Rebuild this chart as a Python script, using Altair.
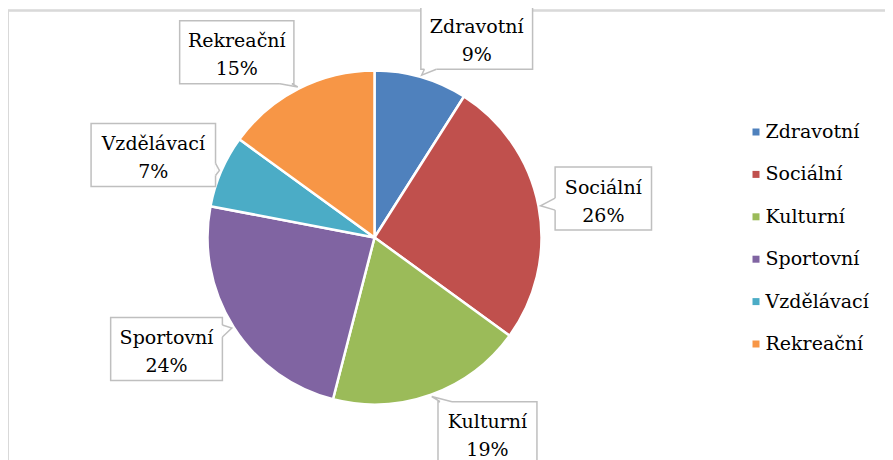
import altair as alt
import numpy as np
import pandas as pd

# ---- data ----
categories = ["Zdravotní", "Sociální", "Kulturní", "Sportovní", "Vzdělávací", "Rekreační"]
values = [9, 26, 19, 24, 7, 15]
colors = ["#4F81BD", "#C0504D", "#9BBB59", "#8064A2", "#4BACC6", "#F79646"]

# ---- layout / style ----
W, H = 877, 450
CX, CY, R = 366.5, 227.5, 167
FONT = "DejaVu Serif"
FS = 19
BORDER = "#d9d9d9"
BOXSTROKE = "#bfbfbf"

# Times advance widths (per 1000 em, 23px) used for callout box sizes
ADV = {"Z": 611, "d": 500, "r": 333, "a": 444, "v": 500, "o": 500, "t": 278, "n": 500,
       "í": 278, "S": 556, "c": 444, "i": 278, "á": 444, "l": 278, "K": 722, "u": 500,
       "p": 500, "V": 722, "z": 444, "ě": 444, "R": 667, "e": 444, "k": 500, "č": 444}

df = pd.DataFrame({"cat": categories, "value": values, "idx": range(len(values))})
total = df["value"].sum()
df["pct"] = (df["value"] / total * 100).round().astype(int).astype(str) + "%"
cum = df["value"].cumsum()
mid = (cum - df["value"] / 2) / total * 2 * np.pi
s, c = np.sin(mid), np.cos(mid)
df["lx"] = CX + 180 * s + 52 * np.sign(s) - 4 * (s < 0)
df["ly"] = CY - 208 * c
tw = df["cat"].apply(lambda t: sum(ADV.get(ch, 500) for ch in t) / 1000 * 23)
df["hw"] = (tw + 21) / 2
HH = 31.5
df["x1"] = df["lx"] - df["hw"]
df["x2"] = df["lx"] + df["hw"]
df["y1"] = df["ly"] - HH
df["y2"] = df["ly"] + HH
df["ny"] = df["ly"] - 5
df["py"] = df["ly"] + 23
df["tx"] = CX + (R + 2) * s
df["ty"] = CY - (R + 2) * c

ptr_rows, erase_rows = [], []
for _, r in df.iterrows():
    name = r["cat"]
    lx, ly, hw, tx, ty = r["lx"], r["ly"], r["hw"], r["tx"], r["ty"]
    dx, dy = tx - lx, ty - ly
    if abs(dx) / hw > abs(dy) / HH:
        bx = lx + np.sign(dx) * hw
        by = ly + dy * hw / abs(dx)
        by = min(max(by, ly - HH + 8), ly + HH - 8)
        b1, b2 = (bx, by - 6), (bx, by + 6)
    else:
        by = ly + np.sign(dy) * HH
        bx = lx + dx * HH / abs(dy)
        bx = min(max(bx, lx - hw + 8), lx + hw - 8)
        b1, b2 = (bx - 6, by), (bx + 6, by)
    for k, (px, py) in enumerate([b1, (tx, ty), b2]):
        ptr_rows.append({"name": name, "k": k, "px": px, "py": py})
    erase_rows.append({"name": name, "ex1": b1[0], "ey1": b1[1], "ex2": b2[0], "ey2": b2[1]})
ptr = pd.DataFrame(ptr_rows)
erase = pd.DataFrame(erase_rows)

xs = alt.Scale(domain=[0, W], nice=False, zero=False)
ys = alt.Scale(domain=[0, H], nice=False, zero=False, reverse=True)

pie = alt.Chart(df).mark_arc(outerRadius=R, stroke="white", strokeWidth=2.5).encode(
    theta=alt.Theta("value:Q", stack=True),
    color=alt.Color(
        "cat:N",
        scale=alt.Scale(domain=categories, range=colors),
        legend=alt.Legend(
            title=None, orient="none", legendX=738.5, legendY=112.5, symbolType="square",
            symbolSize=49, symbolStrokeWidth=0, labelFont=FONT, labelFontSize=FS,
            labelColor="black", rowPadding=22.4, labelOffset=0, padding=0, labelLimit=300,
        ),
    ),
    order=alt.Order("idx:Q"),
    x=alt.value(CX),
    y=alt.value(CY),
)

boxes = alt.Chart(df).mark_rect(fill="white", stroke=BOXSTROKE, strokeWidth=1.5).encode(
    x=alt.X("x1:Q", scale=xs, axis=None),
    x2="x2:Q",
    y=alt.Y("y1:Q", scale=ys, axis=None),
    y2="y2:Q",
)

eraser = alt.Chart(erase).mark_rule(color="white", strokeWidth=2.5).encode(
    x=alt.X("ex1:Q", scale=xs, axis=None),
    x2="ex2:Q",
    y=alt.Y("ey1:Q", scale=ys, axis=None),
    y2="ey2:Q",
)

pointers = alt.Chart(ptr).mark_line(color=BOXSTROKE, strokeWidth=1.5).encode(
    x=alt.X("px:Q", scale=xs, axis=None),
    y=alt.Y("py:Q", scale=ys, axis=None),
    detail="name:N",
    order="k:Q",
)

names = alt.Chart(df).mark_text(font=FONT, fontSize=FS, color="black", baseline="alphabetic").encode(
    x=alt.X("lx:Q", scale=xs, axis=None),
    y=alt.Y("ny:Q", scale=ys, axis=None),
    text="cat:N",
)
pcts = alt.Chart(df).mark_text(font=FONT, fontSize=FS, color="black", baseline="alphabetic").encode(
    x=alt.X("lx:Q", scale=xs, axis=None),
    y=alt.Y("py:Q", scale=ys, axis=None),
    text="pct:N",
)

frame_top = alt.Chart(df).mark_rule(color=BORDER, strokeWidth=1.5).encode(
    x=alt.value(0), x2=alt.value(W), y=alt.value(0.5)
)
frame_left = alt.Chart(df).mark_rule(color=BORDER, strokeWidth=1.5).encode(
    x=alt.value(0), y=alt.value(0), y2=alt.value(H)
)

chart = alt.layer(
    frame_top, frame_left, pie, boxes, eraser, pointers, names, pcts
).properties(
    width=W, height=H,
    autosize=alt.AutoSizeParams(type="none"),
    padding={"left": 0, "top": 2, "right": 0, "bottom": 0},
).configure_view(strokeWidth=0).configure(background="white")

chart.save("out.html", embed_options={"renderer": "svg", "actions": False})
